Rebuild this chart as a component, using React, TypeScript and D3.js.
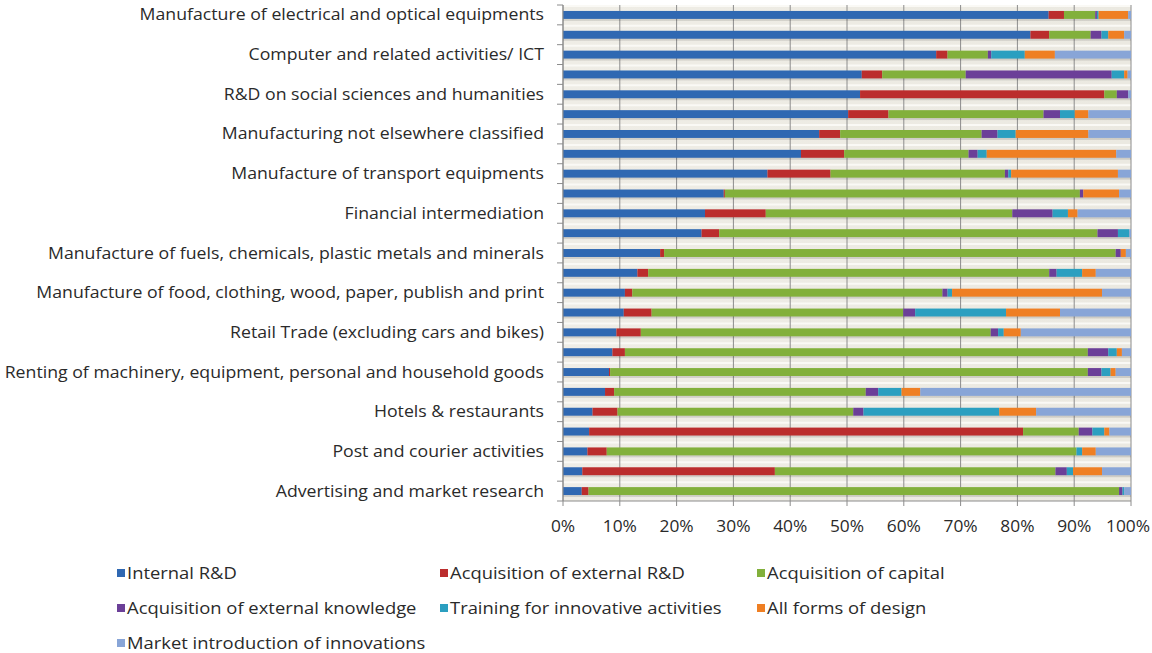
import React from "react";
import * as d3 from "d3";

const categories = [
  "Manufacture of electrical and optical equipments",
  "",
  "Computer and related activities/ ICT",
  "",
  "R&D on social sciences and humanities",
  "",
  "Manufacturing not elsewhere classified",
  "",
  "Manufacture of transport equipments",
  "",
  "Financial intermediation",
  "",
  "Manufacture of fuels, chemicals, plastic metals and minerals",
  "",
  "Manufacture of food, clothing, wood, paper, publish and print",
  "",
  "Retail Trade (excluding cars and bikes)",
  "",
  "Renting of machinery, equipment, personal and household goods",
  "",
  "Hotels & restaurants",
  "",
  "Post and courier activities",
  "",
  "Advertising and market research",
];

const seriesNames = [
  "Internal R&D",
  "Acquisition of external R&D",
  "Acquisition of capital",
  "Acquisition of external knowledge",
  "Training for innovative activities",
  "All forms of design",
  "Market introduction of innovations",
];

const internalRD = [85.5, 82.3, 65.7, 52.6, 52.3, 50.2, 45.1, 41.9, 36.0, 28.3, 25.0, 24.4, 17.1, 13.1, 10.9, 10.7, 9.4, 8.7, 8.1, 7.4, 5.2, 4.6, 4.3, 3.4, 3.3];
const externalRD = [2.7, 3.3, 2.0, 3.6, 43.0, 7.1, 3.7, 7.6, 11.1, 0.2, 10.7, 3.1, 0.7, 1.9, 1.3, 4.9, 4.3, 2.2, 0.2, 1.6, 4.4, 76.4, 3.4, 33.9, 1.2];
const capital = [5.5, 7.3, 7.1, 14.7, 2.2, 27.3, 24.9, 21.9, 30.7, 62.5, 43.4, 66.6, 79.5, 70.6, 54.6, 44.3, 61.6, 81.5, 84.1, 44.3, 41.5, 9.8, 82.7, 49.4, 93.4];
const knowledge = [0.3, 1.9, 0.6, 25.7, 2.0, 2.9, 2.8, 1.6, 0.6, 0.6, 7.1, 3.6, 0.9, 1.3, 0.9, 2.1, 1.3, 3.6, 2.4, 2.2, 1.8, 2.4, 0.0, 2.0, 0.6];
const training = [0.3, 1.2, 5.9, 2.2, 0.0, 2.6, 3.2, 1.6, 0.5, 0.0, 2.7, 2.0, 0.0, 4.5, 0.8, 16.0, 1.0, 1.5, 1.6, 4.1, 23.9, 2.1, 1.0, 1.1, 0.3];
const design = [5.2, 2.8, 5.3, 0.6, 0.0, 2.4, 12.8, 22.8, 18.8, 6.3, 1.7, 0.0, 0.9, 2.4, 26.4, 9.5, 3.0, 0.9, 0.9, 3.3, 6.5, 0.9, 2.4, 5.1, 0.0];
const marketIntro = [0.5, 1.2, 13.4, 0.6, 0.5, 7.5, 7.5, 2.6, 2.3, 2.1, 9.4, 0.3, 0.9, 6.2, 5.1, 12.5, 19.4, 1.6, 2.7, 37.1, 16.7, 3.8, 6.2, 5.1, 1.2];

const seriesValues = [internalRD, externalRD, capital, knowledge, training, design, marketIntro];
const colors = ["#2f68b2", "#bb2d2d", "#82b03b", "#6b3f98", "#2b9fc0", "#ef7f23", "#88a5d7"];
const xTicks = [0, 10, 20, 30, 40, 50, 60, 70, 80, 90, 100];

const FONT = "'Open Sans', 'DejaVu Sans', sans-serif";

export default function App() {
  const W = 1152, H = 653;
  const left = 563, right = 1131, top = 5, bottom = 501;
  const x = d3.scaleLinear().domain([0, 100]).range([left, right]);
  const y = d3.scaleBand<number>().domain(d3.range(categories.length)).range([top, bottom]).paddingInner(0.6).paddingOuter(0.3);
  const yb = d3.scaleBand<number>().domain(d3.range(categories.length)).range([top, bottom]);

  const rows = categories.map((_, i) => {
    const total = d3.sum(seriesValues, (s) => s[i]);
    let acc = 0;
    return seriesValues.map((s, k) => {
      const v = (s[i] / total) * 100;
      const seg = { k, x0: acc, x1: acc + v };
      acc += v;
      return seg;
    });
  });

  const legendCols = [117, 440, 757];
  const legendRows = [573, 608, 643];
  const textColor = "#2a2a2a";

  return (
    <svg width={W} height={H} style={{ position: "absolute", left: 0, top: 0, background: "#fff" }}>
      <defs>
        <linearGradient id="bg" x1="0" y1="0" x2="1" y2="0">
          <stop offset="0" stopColor="#efede6" />
          <stop offset="1" stopColor="#ebe9e1" />
        </linearGradient>
      </defs>
      <rect x={left} y={top} width={right - left} height={bottom - top} fill="url(#bg)" />
      {d3.range(categories.length).map((i) => (
        <line key={"hl" + i} x1={left} x2={right} y1={(yb(i) ?? 0) + 1} y2={(yb(i) ?? 0) + 1} stroke="#faf9f5" strokeWidth={2} />
      ))}
      {xTicks.map((t) => (
        <line key={"g" + t} x1={x(t)} x2={x(t)} y1={top} y2={bottom + 5} stroke="#8c8c8c" strokeWidth={1} />
      ))}
      {rows.map((segs, i) =>
        <g key={"r" + i}>
          <rect x={x(0)} y={(y(i) ?? 0) + 2} width={x(100) - x(0)} height={y.bandwidth()} fill="#000" opacity={0.12} />
          {segs.map((s) =>
            s.x1 - s.x0 > 0 ? (
              <rect key={s.k} x={x(s.x0)} y={y(i)} width={x(s.x1) - x(s.x0)} height={y.bandwidth()} fill={colors[s.k]} />
            ) : null
          )}
        </g>
      )}
      <line x1={left} x2={left} y1={top} y2={bottom} stroke="#8c8c8c" />
      <line x1={left} x2={right} y1={bottom} y2={bottom} stroke="#8c8c8c" />
      {d3.range(categories.length + 1).map((i) => {
        const yy = i < categories.length ? yb(i) ?? 0 : bottom;
        return <line key={"yt" + i} x1={left - 6} x2={left} y1={yy} y2={yy} stroke="#8c8c8c" />;
      })}
      {categories.map((c, i) =>
        c ? (
          <text key={"lab" + i} transform={`translate(544,${(y(i) ?? 0) + y.bandwidth() / 2}) scale(1.12,1)`} dy="0.35em" textAnchor="end" fontFamily={FONT} fontSize={15.8} fill={textColor}>
            {c}
          </text>
        ) : null
      )}
      {xTicks.map((t) => (
        <text key={"xt" + t} transform={`translate(${t === 100 ? x(t) - 3 : x(t)},532) scale(1.05,1)`} textAnchor="middle" fontFamily={FONT} fontSize={16.5} fill={textColor}>
          {t}%
        </text>
      ))}
      {seriesNames.map((n, k) => {
        const cx = legendCols[k % 3];
        const cy = legendRows[Math.floor(k / 3)];
        return (
          <g key={"lg" + k}>
            <rect x={cx} y={cy - 4} width={8} height={8} fill={colors[k]} />
            <text transform={`translate(${cx + 10},${cy}) scale(1.15,1)`} dy="0.35em" fontFamily={FONT} fontSize={16} fill={textColor}>
              {n}
            </text>
          </g>
        );
      })}
    </svg>
  );
}
